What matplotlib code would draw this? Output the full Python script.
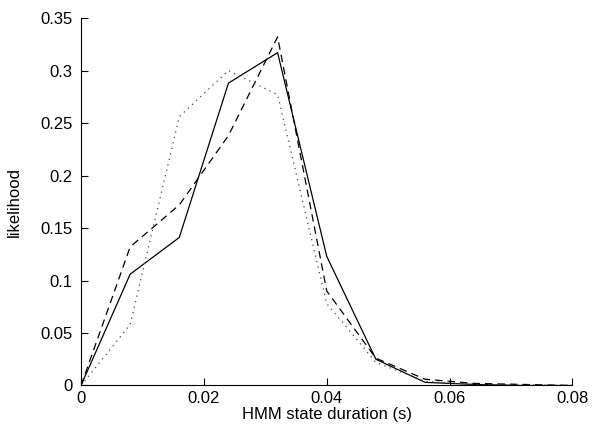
import matplotlib
matplotlib.use('Agg')
import matplotlib.pyplot as plt
from matplotlib.ticker import FuncFormatter

plt.rcParams['font.family'] = ['Liberation Sans', 'DejaVu Sans']

# HMM state duration bins (s) and the three likelihood curves
duration = [0, 0.008, 0.016, 0.024, 0.032, 0.040, 0.048, 0.056, 0.064, 0.072, 0.080]
solid = [0, 0.106, 0.141, 0.288, 0.317, 0.123, 0.025, 0.003, 0.001, 0, 0]
dashed = [0, 0.132, 0.172, 0.238, 0.332, 0.090, 0.026, 0.006, 0.002, 0.001, 0]
dotted = [0, 0.058, 0.256, 0.300, 0.277, 0.078, 0.022, 0.004, 0.001, 0.0005, 0]

xticks = [0, 0.02, 0.04, 0.06, 0.08]
yticks = [0, 0.05, 0.1, 0.15, 0.2, 0.25, 0.3, 0.35]

fig = plt.figure(figsize=(5.93, 4.33), dpi=100)
ax = fig.add_axes([0.1366, 0.1097, 0.8288, 0.8487])

ax.plot(duration, solid, color='black', lw=0.9, ls='-')
ax.plot(duration, dashed, color='black', lw=0.9, ls=(0, (6, 4)))
ax.plot(duration, dotted, color='#444444', lw=0.9, ls=(0, (1, 3.5)))

ax.set_xlim(0, 0.08)
ax.set_ylim(0, 0.35)
ax.set_xticks(xticks)
ax.set_yticks(yticks)
ax.xaxis.set_major_formatter(FuncFormatter(lambda v, p: '%g' % round(v, 4)))
ax.yaxis.set_major_formatter(FuncFormatter(lambda v, p: '%g' % round(v, 4)))

# MATLAB-like box off look
ax.spines['top'].set_visible(False)
ax.spines['right'].set_visible(False)
ax.tick_params(direction='in', length=5, width=0.8, labelsize=12)
ax.tick_params(axis='y', pad=6)
ax.tick_params(axis='x', pad=4)

ax.set_xlabel('HMM state duration (s)', fontsize=12, labelpad=1)
ax.set_ylabel('likelihood', fontsize=12, labelpad=13)

fig.savefig('out.png', dpi=100)
